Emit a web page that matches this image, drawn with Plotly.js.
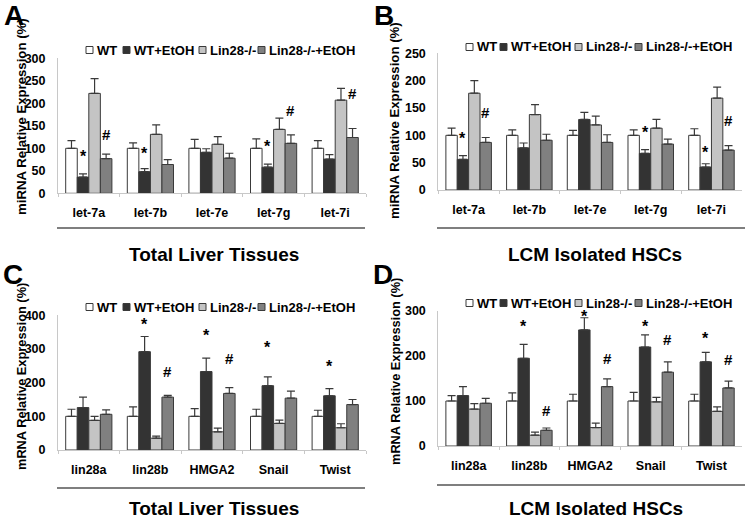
<!DOCTYPE html>
<html><head><meta charset="utf-8">
<script src="https://cdn.plot.ly/plotly-3.0.1.min.js"></script>
<style>html,body{margin:0;padding:0;background:#fff}</style>
</head><body><div id="chart" style="width:745px;height:522px"></div>
<script>
// ---------- data ----------
const seriesNames = ['WT', 'WT+EtOH', 'Lin28-/-', 'Lin28-/-+EtOH'];
const miRNACats = ['let-7a', 'let-7b', 'let-7e', 'let-7g', 'let-7i'];
const mRNACats = ['lin28a', 'lin28b', 'HMGA2', 'Snail', 'Twist'];

// Panel A: miRNA, total liver tissues
const A_WT = [100, 100, 100, 100, 100];
const A_WT_err = [17, 12, 20, 21, 17];
const A_EtOH = [36, 48, 91, 58, 76];
const A_EtOH_err = [7, 7, 8, 7, 10];
const A_Lin = [222, 131, 109, 142, 207];
const A_Lin_err = [33, 21, 17, 25, 26];
const A_LinE = [77, 64, 78, 111, 124];
const A_LinE_err = [10, 11, 11, 19, 20];

// Panel B: miRNA, LCM isolated HSCs
const B_WT = [100, 100, 100, 100, 100];
const B_WT_err = [13, 10, 9, 10, 12];
const B_EtOH = [56, 77, 129, 67, 42];
const B_EtOH_err = [7, 9, 13, 7, 6];
const B_Lin = [177, 138, 119, 113, 168];
const B_Lin_err = [23, 18, 16, 16, 20];
const B_LinE = [87, 91, 87, 84, 73];
const B_LinE_err = [9, 11, 14, 9, 8];

// Panel C: mRNA, total liver tissues
const C_WT = [100, 100, 100, 100, 100];
const C_WT_err = [21, 28, 23, 21, 18];
const C_EtOH = [126, 292, 233, 191, 161];
const C_EtOH_err = [31, 45, 40, 26, 21];
const C_Lin = [88, 35, 54, 79, 66];
const C_Lin_err = [12, 6, 11, 10, 12];
const C_LinE = [106, 157, 168, 154, 135];
const C_LinE_err = [13, 5, 17, 21, 15];

// Panel D: mRNA, LCM isolated HSCs
const D_WT = [100, 100, 100, 100, 100];
const D_WT_err = [12, 18, 15, 19, 15];
const D_EtOH = [112, 195, 258, 220, 187];
const D_EtOH_err = [20, 31, 27, 27, 21];
const D_Lin = [82, 24, 41, 98, 77];
const D_Lin_err = [12, 7, 10, 10, 10];
const D_LinE = [95, 35, 132, 164, 129];
const D_LinE_err = [11, 5, 17, 23, 15];

// significance marks: [symbol, category index, series index, y value]
const A_sig = [['*', 0, 1, 89], ['#', 0, 3, 131], ['*', 1, 1, 96], ['*', 3, 1, 111], ['#', 3, 3, 183], ['#', 4, 3, 221]];
const B_sig = [['*', 0, 1, 99], ['#', 0, 3, 141], ['*', 3, 1, 110], ['*', 4, 1, 74], ['#', 4, 3, 127]];
const C_sig = [['*', 1, 1, 381], ['#', 1, 3, 233], ['*', 2, 1, 350], ['#', 2, 3, 272], ['*', 3, 1, 314], ['*', 4, 1, 257]];
const D_sig = [['*', 1, 1, 273], ['#', 1, 3, 80], ['*', 2, 1, 295], ['#', 2, 3, 194], ['*', 3, 1, 273], ['#', 3, 3, 236], ['*', 4, 1, 245], ['#', 4, 3, 192]];

// ---------- styling ----------
const W = 745, H = 522;
const FONT = 'Liberation Sans, Arial, sans-serif';
const colors = ['#ffffff', '#333333', '#c4c4c4', '#808080'];
const px = x => x / W;
const py = y => 1 - y / H;

const panels = [
  {id: '', cats: miRNACats, vals: [A_WT, A_EtOH, A_Lin, A_LinE], errs: [A_WT_err, A_EtOH_err, A_Lin_err, A_LinE_err], sig: A_sig,
   range: [0, 300], dtick: 50, x: [58, 366], y: [58.3, 193.3], letter: 'A', lx: 2, ly: 15,
   ytitle: 'miRNA Relative Expression (%)', ytx: 21, yty: 117, ytsize: 13.2,
   leg: [86, 123, 199, 258], legY: 50, sep: [57, 365, 228], title: 'Total Liver Tissues', tx: 214, ty: 254},
  {id: '2', cats: miRNACats, vals: [B_WT, B_EtOH, B_Lin, B_LinE], errs: [B_WT_err, B_EtOH_err, B_Lin_err, B_LinE_err], sig: B_sig,
   range: [0, 250], dtick: 50, x: [438.3, 741.8], y: [53.3, 190], letter: 'B', lx: 372, ly: 15,
   ytitle: 'miRNA Relative Expression (%)', ytx: 395, yty: 121, ytsize: 13.2,
   leg: [466, 500, 575, 635], legY: 47, sep: [437, 745, 228], title: 'LCM Isolated HSCs', tx: 595, ty: 254},
  {id: '3', cats: mRNACats, vals: [C_WT, C_EtOH, C_Lin, C_LinE], errs: [C_WT_err, C_EtOH_err, C_Lin_err, C_LinE_err], sig: C_sig,
   range: [0, 400], dtick: 100, x: [58, 366], y: [315.3, 450], letter: 'C', lx: 1, ly: 274,
   ytitle: 'mRNA Relative Expression (%)', ytx: 21, yty: 377, ytsize: 12.8,
   leg: [86, 123, 199, 258], legY: 307, sep: [57, 365, 488], title: 'Total Liver Tissues', tx: 214, ty: 508},
  {id: '4', cats: mRNACats, vals: [D_WT, D_EtOH, D_Lin, D_LinE], errs: [D_WT_err, D_EtOH_err, D_Lin_err, D_LinE_err], sig: D_sig,
   range: [0, 300], dtick: 100, x: [438.3, 741.8], y: [311, 446], letter: 'D', lx: 371, ly: 274,
   ytitle: 'mRNA Relative Expression (%)', ytx: 395, yty: 372, ytsize: 12.8,
   leg: [466, 500, 575, 635], legY: 303, sep: [437, 745, 485], title: 'LCM Isolated HSCs', tx: 596, ty: 508}
];

const barOffsets = [-0.28125, -0.09375, 0.09375, 0.28125];
const traces = [];
const layout = {
  width: W, height: H, margin: {l: 0, r: 0, t: 0, b: 0},
  paper_bgcolor: '#fff', plot_bgcolor: '#fff', showlegend: false,
  barmode: 'group', bargap: 0.25, bargroupgap: 0,
  font: {family: FONT, color: '#000'},
  annotations: [], shapes: []
};

panels.forEach(p => {
  const xa = 'x' + p.id, ya = 'y' + p.id;
  p.vals.forEach((v, s) => {
    traces.push({
      type: 'bar', name: seriesNames[s], x: p.cats, y: v, xaxis: xa, yaxis: ya,
      marker: {color: colors[s], line: {color: '#3a3a3a', width: 1}},
      error_y: {type: 'data', symmetric: false, array: p.errs[s], arrayminus: p.errs[s].map(() => 0),
                color: '#3a3a3a', thickness: 1.2, width: 4},
      hoverinfo: 'skip'
    });
  });
  layout['xaxis' + p.id] = {
    domain: [px(p.x[0]), px(p.x[1])], anchor: ya, type: 'category',
    showline: true, linecolor: '#c8c8c8', linewidth: 1, ticks: 'outside', tickson: 'boundaries',
    ticklen: 3, tickcolor: '#c8c8c8', showgrid: false, zeroline: false,
    tickfont: {family: FONT, size: 12.5, weight: 700, color: '#000'}, ticklabelstandoff: 8, fixedrange: true
  };
  layout['yaxis' + p.id] = {
    domain: [py(p.y[1]), py(p.y[0])], anchor: xa, range: p.range, dtick: p.dtick, tick0: 0,
    showline: true, linecolor: '#c8c8c8', linewidth: 1, ticks: '', showgrid: false, zeroline: false,
    tickfont: {family: FONT, size: 12.5, weight: 700, color: '#000'}, ticklabelstandoff: 9, fixedrange: true
  };
  // significance marks
  p.sig.forEach(([sym, c, s, yv]) => {
    layout.annotations.push({
      xref: xa, yref: ya, x: c + barOffsets[s], y: yv, text: sym, showarrow: false,
      xanchor: 'center', yanchor: 'middle', yshift: sym === '*' ? -3 : 0,
      font: {family: FONT, size: sym === '*' ? 16 : 15, weight: 700, color: '#000'}
    });
  });
  // panel letter
  layout.annotations.push({xref: 'paper', yref: 'paper', x: px(p.lx), y: py(p.ly), text: p.letter, showarrow: false,
    xanchor: 'left', yanchor: 'middle', font: {family: FONT, size: 28, weight: 700, color: '#000'}});
  // y title
  layout.annotations.push({xref: 'paper', yref: 'paper', x: px(p.ytx), y: py(p.yty), text: p.ytitle, showarrow: false,
    textangle: -90, xanchor: 'center', yanchor: 'middle', font: {family: FONT, size: p.ytsize, weight: 700, color: '#000'}});
  // bottom title
  layout.annotations.push({xref: 'paper', yref: 'paper', x: px(p.tx), y: py(p.ty), text: p.title, showarrow: false,
    xanchor: 'center', yanchor: 'middle', font: {family: FONT, size: 19, weight: 700, color: '#000'}});
  // separator line
  layout.shapes.push({type: 'line', xref: 'paper', yref: 'paper', x0: px(p.sep[0]), x1: px(p.sep[1]),
    y0: py(p.sep[2]), y1: py(p.sep[2]), line: {color: '#555', width: 1.5}});
  // legend
  p.leg.forEach((lx, s) => {
    layout.shapes.push({type: 'rect', xref: 'paper', yref: 'paper', x0: px(lx), x1: px(lx + 7),
      y0: py(p.legY + 3.5), y1: py(p.legY - 3.5), fillcolor: colors[s], line: {color: '#3a3a3a', width: 1}});
    layout.annotations.push({xref: 'paper', yref: 'paper', x: px(lx + 8.5), y: py(p.legY), text: seriesNames[s],
      showarrow: false, xanchor: 'left', yanchor: 'middle', font: {family: FONT, size: 13, weight: 700, color: '#000'}});
  });
});

Plotly.newPlot('chart', traces, layout, {displayModeBar: false, staticPlot: true});
</script>
</body></html>
